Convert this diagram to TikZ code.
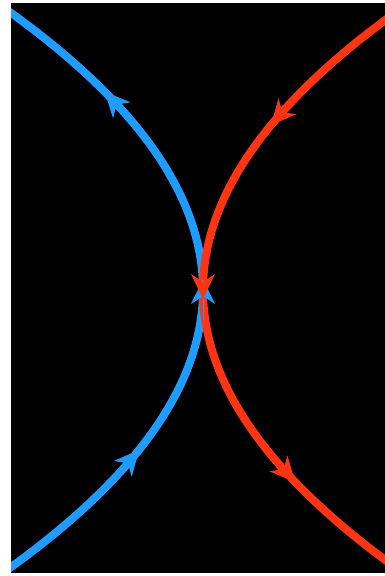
\documentclass[tikz,border=0pt]{standalone}
\usetikzlibrary{arrows.meta}
\definecolor{bluecurve}{RGB}{30,156,255}
\definecolor{redcurve}{RGB}{255,52,18}
\begin{document}
\begin{tikzpicture}[x=1pt,y=-1pt,
  curve/.style={line width=8pt},
  tip/.style={line width=1pt,-{Stealth[length=25pt,width=24pt,inset=8pt]}}]
\useasboundingbox (0,0) rectangle (385,576);
\fill[white] (0,0) rectangle (385,576);
\fill[black] (11,3) rectangle (385,573);
\begin{scope}
\clip (11,3) rectangle (385,573);
\draw[curve,bluecurve] plot[domain=0:576,samples=160,variable=\t] ({203-(0.05*(\t-290))^2},\t);
\draw[curve,redcurve] plot[domain=0:576,samples=160,variable=\t] ({203+(0.05*(\t-290))^2},\t);
\end{scope}
% blue arrow tips
\coordinate (b1t) at (130.75,120); \coordinate (b1h) at (105,92);
\coordinate (b2t) at (117.4,475); \coordinate (b2h) at (139,450);
\coordinate (b3t) at (203,320); \coordinate (b3h) at (203,279);
\draw[tip,bluecurve] (b1t) -- (b1h);
\draw[tip,bluecurve] (b2t) -- (b2h);
\draw[tip,bluecurve] (b3t) -- (b3h);
% red arrow tips
\coordinate (r1t) at (293,100); \coordinate (r1h) at (271,125);
\coordinate (r2t) at (271,455); \coordinate (r2h) at (295,482);
\coordinate (r3t) at (203,262); \coordinate (r3h) at (203,299);
\draw[tip,redcurve] (r1t) -- (r1h);
\draw[tip,redcurve] (r2t) -- (r2h);
\draw[tip,redcurve] (r3t) -- (r3h);
\end{tikzpicture}
\end{document}
